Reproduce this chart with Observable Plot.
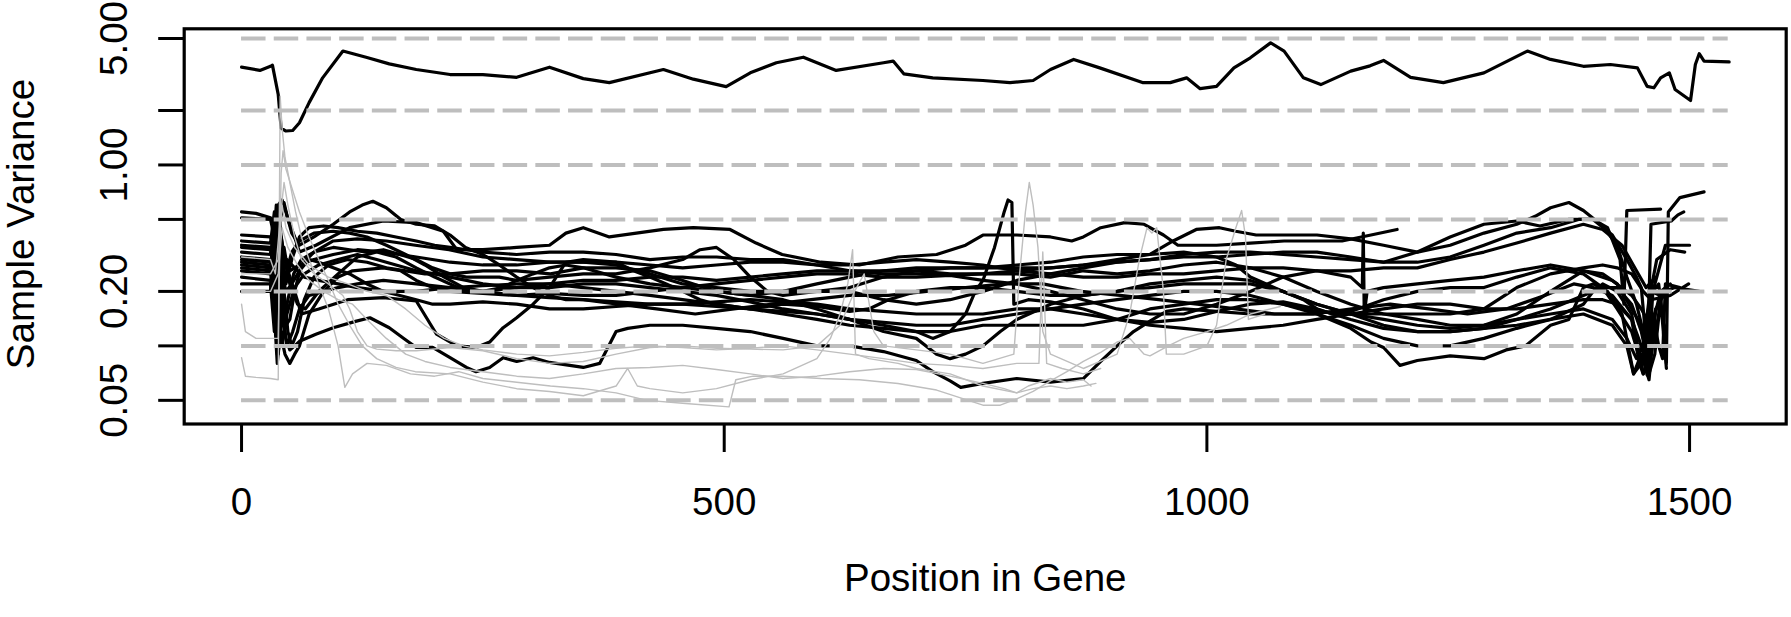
<!DOCTYPE html>
<html><head><meta charset="utf-8">
<script src="https://cdn.jsdelivr.net/npm/d3@7"></script>
<script src="https://cdn.jsdelivr.net/npm/@observablehq/plot@0.6"></script>
<style>body{margin:0;background:#fff;}</style>
</head><body><div id="chart"></div>
<script>
// ---------- axis / guide values ----------
const xTicks = [0, 500, 1000, 1500];
const yTicks = [0.05, 0.1, 0.2, 0.5, 1, 2, 5];
const yLabelled = [0.05, 0.2, 1, 5];
const guideLevels = [0.05, 0.1, 0.2, 0.5, 1, 2, 5];
const geneLength = 1540;

// ---------- black series: [position, sample variance] ----------
const topLine = [[0,3.47],[19,3.33],[30,3.51],[32,3.56],[38,2.45],[41,1.6],[46,1.54],[53,1.55],[60,1.71],[70,2.21],[84,3.03],[105,4.26],[129,3.94],[153,3.62],[181,3.37],[216,3.16],[250,3.16],[285,3.05],[319,3.47],[354,3.0],[381,2.85],[437,3.37],[468,2.98],[502,2.71],[527,3.23],[554,3.67],[582,3.94],[616,3.33],[665,3.67],[675,3.75],[686,3.19],[716,3.03],[768,2.93],[796,2.85],[820,2.93],[838,3.37],[862,3.83],[889,3.44],[934,2.85],[962,2.85],[979,3.03],[993,2.64],[1010,2.72],[1028,3.44],[1045,3.91],[1066,4.73],[1080,4.26],[1100,3.03],[1118,2.78],[1149,3.3],[1169,3.53],[1183,3.78],[1211,3.05],[1245,2.85],[1287,3.23],[1332,4.26],[1356,3.83],[1390,3.51],[1418,3.59],[1446,3.44],[1456,2.72],[1463,2.67],[1470,3.03],[1479,3.23],[1485,2.61],[1501,2.27],[1506,3.59],[1510,4.12],[1515,3.75],[1541,3.71]];
const b1 = [[0,0.55],[15,0.54],[30,0.51],[34,0.45],[37,0.25],[40,0.5],[44,0.62],[48,0.5],[55,0.4],[60,0.33],[77,0.36],[112,0.45],[147,0.49],[181,0.48],[209,0.43],[223,0.34],[250,0.34],[285,0.35],[319,0.36],[336,0.42],[354,0.45],[381,0.40],[437,0.44],[468,0.45],[506,0.44],[533,0.37],[560,0.32],[600,0.29],[640,0.28],[680,0.31],[720,0.32],[750,0.36],[768,0.41],[803,0.41],[838,0.40],[860,0.38],[872,0.40],[890,0.45],[915,0.48],[935,0.47],[955,0.41],[970,0.36],[990,0.36],[1010,0.36],[1045,0.37],[1080,0.38],[1110,0.38],[1140,0.38],[1170,0.41],[1197,0.44]];
const b2 = [[0,0.51],[30,0.50],[34,0.40],[38,0.6],[42,0.64],[46,0.55],[52,0.42],[60,0.36],[75,0.40],[95,0.47],[112,0.55],[125,0.60],[136,0.63],[150,0.58],[165,0.50],[181,0.47],[200,0.46],[216,0.41],[232,0.35],[250,0.32],[267,0.28],[285,0.24],[302,0.21],[319,0.19],[336,0.18],[354,0.18],[390,0.17],[430,0.16],[470,0.15],[510,0.16],[550,0.17],[590,0.18],[630,0.19],[670,0.19],[710,0.2],[750,0.21],[790,0.22],[830,0.22],[870,0.2],[910,0.19],[950,0.18],[990,0.17],[1030,0.16],[1070,0.15],[1110,0.15],[1150,0.16],[1190,0.17],[1230,0.16],[1270,0.15],[1310,0.16],[1350,0.19],[1380,0.22],[1400,0.21],[1420,0.19],[1440,0.14],[1448,0.08],[1452,0.07],[1458,0.09],[1462,0.2],[1468,0.22],[1474,0.12],[1476,0.08],[1478,0.55],[1490,0.66],[1515,0.71]];
const b3 = [[0,0.41],[30,0.40],[34,0.35],[37,0.10],[40,0.3],[44,0.2],[48,0.12],[52,0.10],[58,0.12],[65,0.18],[75,0.24],[90,0.28],[110,0.30],[130,0.29],[150,0.27],[170,0.26],[190,0.25],[216,0.25],[250,0.26],[285,0.26],[320,0.25],[354,0.27],[388,0.27],[423,0.26],[457,0.23],[492,0.20],[527,0.19],[561,0.20],[596,0.22],[630,0.24],[665,0.26],[699,0.26],[734,0.25],[768,0.25],[803,0.25],[838,0.24],[872,0.26],[907,0.25],[941,0.26],[976,0.28],[1010,0.29],[1045,0.27],[1079,0.24],[1114,0.2],[1149,0.17],[1183,0.15],[1218,0.15],[1252,0.15],[1287,0.16],[1321,0.21],[1356,0.25],[1390,0.27],[1410,0.28],[1425,0.27],[1440,0.25],[1452,0.2],[1460,0.18],[1480,0.19],[1499,0.22]];
const b4 = [[0,0.36],[30,0.35],[34,0.3],[38,0.45],[42,0.2],[46,0.13],[50,0.14],[55,0.2],[62,0.28],[75,0.33],[95,0.38],[120,0.39],[150,0.38],[180,0.36],[215,0.34],[250,0.31],[285,0.30],[320,0.29],[354,0.29],[388,0.28],[423,0.25],[457,0.22],[492,0.21],[527,0.20],[561,0.20],[596,0.20],[630,0.21],[665,0.24],[699,0.26],[734,0.27],[768,0.27],[803,0.27],[838,0.27],[872,0.28],[907,0.30],[941,0.32],[965,0.38],[989,0.44],[1013,0.45],[1030,0.43],[1051,0.41],[1114,0.41],[1149,0.39],[1183,0.36],[1218,0.33],[1252,0.36],[1287,0.42],[1321,0.47],[1340,0.52],[1356,0.58],[1375,0.62],[1390,0.56],[1410,0.46],[1425,0.36],[1435,0.24],[1445,0.17],[1452,0.12],[1456,0.069],[1460,0.47],[1481,0.49],[1488,0.53],[1494,0.55]];
const b5 = [[0,0.35],[30,0.34],[34,0.25],[38,0.12],[41,0.4],[45,0.3],[50,0.22],[58,0.17],[66,0.16],[80,0.2],[100,0.25],[120,0.31],[140,0.33],[160,0.31],[181,0.27],[200,0.24],[216,0.22],[233,0.20],[250,0.20],[270,0.21],[285,0.23],[302,0.25],[319,0.27],[336,0.28],[354,0.27],[388,0.24],[423,0.22],[457,0.21],[492,0.20],[527,0.19],[561,0.18],[596,0.16],[630,0.14],[665,0.12],[699,0.11],[720,0.09],[734,0.085],[750,0.09],[768,0.10],[786,0.12],[803,0.14],[838,0.17],[872,0.19],[907,0.2],[941,0.22],[976,0.23],[1010,0.24],[1045,0.23],[1079,0.20],[1114,0.17],[1149,0.15],[1183,0.13],[1218,0.12],[1252,0.12],[1287,0.125],[1321,0.14],[1356,0.15],[1390,0.16],[1420,0.14],[1435,0.11],[1445,0.085],[1452,0.1],[1458,0.18],[1466,0.3],[1480,0.34],[1495,0.33]];
const b6 = [[0,0.31],[30,0.30],[34,0.2],[37,0.09],[40,0.25],[44,0.35],[48,0.26],[55,0.2],[62,0.15],[80,0.16],[110,0.18],[147,0.185],[181,0.177],[202,0.116],[223,0.10],[243,0.098],[257,0.105],[271,0.126],[285,0.143],[302,0.17],[319,0.21],[336,0.29],[354,0.30],[388,0.29],[406,0.26],[423,0.24],[440,0.22],[457,0.2],[475,0.18],[492,0.17],[527,0.16],[561,0.15],[596,0.14],[630,0.13],[665,0.125],[699,0.12],[734,0.12],[768,0.13],[803,0.13],[838,0.13],[872,0.13],[907,0.14],[941,0.16],[976,0.17],[1010,0.18],[1045,0.18],[1079,0.17],[1114,0.15],[1149,0.13],[1183,0.11],[1218,0.10],[1252,0.10],[1287,0.11],[1321,0.125],[1356,0.14],[1390,0.17],[1400,0.2],[1410,0.22],[1425,0.2],[1440,0.15],[1448,0.09],[1452,0.07],[1458,0.08],[1465,0.12],[1472,0.2],[1485,0.21],[1510,0.20]];
const b7 = [[0,0.29],[30,0.28],[34,0.2],[38,0.09],[42,0.15],[46,0.11],[50,0.095],[55,0.10],[60,0.106],[77,0.116],[95,0.126],[119,0.137],[133,0.143],[153,0.126],[167,0.111],[181,0.098],[198,0.098],[216,0.086],[233,0.076],[243,0.072],[257,0.076],[271,0.086],[285,0.082],[302,0.086],[319,0.081],[354,0.076],[371,0.08],[388,0.12],[400,0.125],[423,0.13],[457,0.13],[492,0.125],[527,0.12],[561,0.11],[596,0.10],[630,0.10],[665,0.093],[699,0.083],[716,0.072],[734,0.064],[745,0.059],[768,0.062],[803,0.066],[838,0.063],[872,0.066],[890,0.082],[907,0.10],[924,0.12],[941,0.137],[958,0.155],[976,0.16],[1010,0.155],[1045,0.15],[1079,0.15],[1114,0.15],[1149,0.125],[1170,0.105],[1183,0.098],[1200,0.078],[1218,0.083],[1252,0.088],[1287,0.085],[1310,0.095],[1330,0.10],[1356,0.13],[1375,0.14],[1390,0.21],[1400,0.22],[1415,0.2],[1430,0.15],[1442,0.07],[1450,0.09],[1458,0.065],[1465,0.16],[1475,0.2]];
const b8 = [[0,0.27],[30,0.26],[34,0.15],[37,0.08],[40,0.12],[45,0.09],[50,0.08],[55,0.09],[60,0.1],[70,0.15],[85,0.20],[100,0.24],[115,0.26],[147,0.27],[165,0.26],[181,0.23],[198,0.21],[216,0.20],[250,0.195],[285,0.19],[319,0.195],[354,0.19],[388,0.19],[423,0.2],[457,0.21],[492,0.22],[527,0.23],[561,0.24],[596,0.25],[630,0.25],[665,0.24],[699,0.24],[734,0.245],[768,0.23],[803,0.22],[838,0.2],[872,0.18],[907,0.16],[941,0.15],[976,0.15],[1010,0.17],[1045,0.20],[1079,0.24],[1114,0.26],[1149,0.24],[1161,0.21],[1162,0.42],[1163,0.15],[1166,0.2],[1183,0.21],[1218,0.22],[1252,0.23],[1287,0.24],[1321,0.26],[1356,0.28],[1390,0.26],[1420,0.23],[1440,0.19],[1450,0.16],[1456,0.14],[1462,0.2],[1475,0.36],[1500,0.36]];
const b9 = [[0,0.26],[30,0.25],[34,0.3],[37,0.45],[40,0.2],[44,0.14],[48,0.18],[54,0.25],[62,0.3],[75,0.33],[95,0.35],[112,0.34],[130,0.33],[147,0.34],[164,0.32],[181,0.30],[198,0.27],[216,0.25],[233,0.24],[250,0.24],[267,0.24],[285,0.23],[319,0.24],[354,0.25],[388,0.25],[423,0.27],[457,0.30],[475,0.34],[492,0.35],[510,0.30],[527,0.24],[545,0.20],[561,0.19],[596,0.2],[630,0.2],[665,0.18],[699,0.17],[734,0.18],[768,0.2],[803,0.23],[838,0.25],[872,0.27],[907,0.29],[941,0.3],[976,0.32],[1010,0.33],[1045,0.33],[1079,0.32],[1114,0.31],[1149,0.30],[1183,0.29],[1218,0.29],[1252,0.31],[1287,0.36],[1321,0.42],[1356,0.45],[1385,0.5],[1400,0.5],[1415,0.45],[1428,0.3],[1432,0.17],[1435,0.56],[1470,0.57]];
const b10 = [[0,0.24],[30,0.23],[34,0.18],[38,0.35],[42,0.25],[46,0.2],[52,0.22],[60,0.26],[70,0.3],[80,0.29],[95,0.27],[112,0.25],[130,0.22],[147,0.2],[164,0.19],[181,0.18],[198,0.17],[216,0.17],[250,0.175],[285,0.17],[319,0.16],[354,0.16],[388,0.165],[423,0.17],[457,0.17],[492,0.165],[527,0.16],[561,0.17],[596,0.165],[630,0.155],[650,0.16],[670,0.18],[699,0.2],[734,0.21],[768,0.21],[803,0.2],[838,0.19],[872,0.19],[907,0.2],[941,0.21],[976,0.22],[1010,0.22],[1045,0.22],[1079,0.2],[1100,0.18],[1114,0.16],[1130,0.15],[1149,0.155],[1183,0.18],[1218,0.2],[1252,0.21],[1287,0.21],[1321,0.24],[1356,0.27],[1390,0.25],[1410,0.21],[1425,0.16],[1440,0.12],[1447,0.09],[1452,0.1],[1460,0.2],[1470,0.19]];
const b11 = [[0,0.20],[30,0.2],[34,0.4],[38,0.15],[42,0.3],[46,0.22],[52,0.3],[60,0.4],[70,0.45],[85,0.46],[100,0.45],[120,0.43],[140,0.42],[160,0.40],[181,0.38],[200,0.36],[216,0.35],[233,0.34],[250,0.33],[285,0.32],[319,0.33],[354,0.33],[388,0.32],[423,0.3],[457,0.31],[492,0.31],[527,0.30],[561,0.30],[596,0.28],[630,0.26],[665,0.25],[699,0.25],[734,0.245],[768,0.25],[803,0.26],[838,0.27],[872,0.28],[907,0.29],[941,0.3],[976,0.31],[1010,0.31],[1045,0.32],[1079,0.33],[1114,0.33],[1149,0.31],[1183,0.29],[1218,0.33],[1252,0.40],[1287,0.47],[1321,0.49],[1345,0.46],[1375,0.5],[1400,0.5],[1420,0.41],[1435,0.3],[1445,0.24],[1450,0.21],[1458,0.07],[1464,0.09],[1470,0.18],[1476,0.075]];
const b12 = [[0,0.30],[30,0.29],[35,0.15],[39,0.5],[44,0.3],[50,0.26],[60,0.28],[75,0.3],[95,0.32],[120,0.34],[147,0.33],[181,0.31],[216,0.29],[250,0.28],[285,0.28],[319,0.29],[354,0.29],[388,0.29],[423,0.28],[457,0.27],[492,0.28],[527,0.29],[561,0.29],[596,0.28],[630,0.28],[665,0.29],[699,0.30],[734,0.29],[768,0.28],[803,0.26],[838,0.25],[872,0.24],[907,0.24],[941,0.25],[976,0.25],[1010,0.26],[1045,0.27],[1079,0.27],[1114,0.26],[1149,0.26],[1183,0.27],[1218,0.27],[1252,0.3],[1287,0.33],[1321,0.37],[1356,0.42],[1390,0.47],[1410,0.44],[1430,0.36],[1445,0.26],[1455,0.21],[1465,0.24]];
const b13 = [[0,0.33],[30,0.32],[35,0.5],[38,0.2],[42,0.1],[47,0.15],[55,0.21],[65,0.25],[80,0.28],[100,0.3],[120,0.32],[140,0.30],[160,0.28],[181,0.26],[200,0.25],[216,0.24],[233,0.23],[250,0.22],[285,0.21],[319,0.21],[354,0.22],[388,0.22],[423,0.21],[457,0.2],[492,0.19],[527,0.175],[561,0.16],[596,0.15],[630,0.14],[665,0.135],[699,0.13],[734,0.13],[768,0.14],[803,0.15],[838,0.16],[872,0.17],[907,0.18],[941,0.19],[976,0.2],[1010,0.2],[1045,0.19],[1079,0.17],[1114,0.155],[1149,0.15],[1183,0.15],[1218,0.14],[1252,0.13],[1287,0.13],[1321,0.14],[1356,0.16],[1390,0.19],[1410,0.21],[1425,0.21],[1440,0.17],[1450,0.12],[1455,0.09],[1462,0.15],[1468,0.1],[1472,0.085],[1475,0.22],[1490,0.21]];
const b14 = [[0,0.22],[30,0.22],[34,0.12],[38,0.3],[42,0.16],[47,0.1],[53,0.12],[60,0.16],[70,0.19],[85,0.2],[100,0.21],[120,0.22],[147,0.23],[181,0.22],[216,0.21],[250,0.2],[285,0.19],[319,0.185],[354,0.18],[388,0.175],[423,0.17],[457,0.17],[492,0.175],[527,0.18],[561,0.175],[596,0.17],[630,0.16],[665,0.155],[699,0.15],[734,0.15],[768,0.15],[803,0.16],[838,0.16],[872,0.15],[907,0.14],[941,0.13],[976,0.125],[1010,0.12],[1045,0.125],[1079,0.13],[1114,0.14],[1149,0.15],[1183,0.16],[1218,0.17],[1252,0.17],[1287,0.16],[1321,0.16],[1356,0.17],[1390,0.18],[1410,0.18],[1425,0.17],[1440,0.14],[1450,0.1],[1457,0.075],[1462,0.12]];
const b15 = [[0,0.38],[30,0.37],[34,0.55],[38,0.3],[42,0.18],[46,0.25],[52,0.33],[60,0.38],[75,0.42],[95,0.43],[112,0.42],[130,0.40],[150,0.36],[170,0.32],[190,0.28],[210,0.24],[230,0.21],[250,0.20],[285,0.21],[319,0.22],[354,0.23],[388,0.23],[423,0.24],[457,0.24],[492,0.23],[527,0.24],[561,0.25],[596,0.26],[630,0.26],[665,0.26],[699,0.27],[734,0.27],[768,0.27],[803,0.28],[838,0.29],[872,0.31],[907,0.32],[941,0.32],[976,0.33],[1010,0.31],[1030,0.28],[1045,0.24],[1079,0.2],[1114,0.17],[1149,0.15],[1183,0.14],[1218,0.13],[1252,0.125],[1287,0.13],[1321,0.15],[1356,0.2],[1390,0.26],[1410,0.25],[1425,0.22],[1440,0.16],[1450,0.13],[1460,0.12],[1470,0.2],[1480,0.22]];
const spikeLine = [[0,0.28],[30,0.27],[33,0.35],[36,0.6],[39,0.4],[43,0.25],[47,0.3],[55,0.27],[65,0.24],[80,0.23],[100,0.22],[120,0.21],[150,0.2],[181,0.2],[216,0.21],[250,0.215],[285,0.22],[319,0.22],[354,0.21],[388,0.2],[423,0.19],[457,0.18],[492,0.17],[527,0.16],[561,0.155],[596,0.15],[630,0.14],[665,0.13],[699,0.12],[716,0.11],[734,0.12],[750,0.15],[760,0.2],[768,0.23],[780,0.35],[790,0.55],[794,0.64],[798,0.62],[800,0.17],[815,0.18],[838,0.175],[872,0.16],[907,0.14],[941,0.135],[976,0.14],[1010,0.155],[1045,0.17],[1079,0.175],[1114,0.16],[1149,0.14],[1183,0.125],[1218,0.12],[1252,0.12],[1287,0.125],[1321,0.13],[1356,0.14],[1390,0.15],[1420,0.13],[1435,0.1],[1442,0.07],[1450,0.08],[1456,0.1],[1465,0.16],[1470,0.17]];

// ---------- grey series ----------
const g1 = [[0,0.086],[4,0.068],[15,0.067],[30,0.066],[38,0.065],[40,2.4],[42,1.6],[45,1.1],[50,0.8],[56,0.55],[62,0.4],[70,0.3],[80,0.22],[90,0.16],[100,0.1],[107,0.059],[115,0.07],[130,0.08],[150,0.078],[175,0.07],[200,0.068],[225,0.072],[250,0.066],[285,0.063],[320,0.06],[354,0.058],[388,0.055],[420,0.05],[460,0.048],[505,0.046],[512,0.065],[530,0.068],[561,0.068],[600,0.066],[640,0.065],[680,0.062],[720,0.057],[768,0.047],[786,0.047],[803,0.051],[820,0.056],[838,0.064],[855,0.072],[872,0.082],[890,0.092],[907,0.105],[920,0.11],[935,0.09],[941,0.088],[960,0.1],[976,0.11],[1000,0.12],[1020,0.13],[1045,0.15],[1076,0.165]];
const g2 = [[0,0.17],[4,0.12],[15,0.11],[30,0.11],[38,0.11],[41,0.9],[43,1.2],[46,0.95],[52,0.75],[60,0.55],[70,0.4],[80,0.3],[90,0.23],[100,0.17],[112,0.13],[125,0.1],[140,0.085],[160,0.076],[180,0.072],[216,0.07],[250,0.063],[285,0.058],[319,0.056],[354,0.053],[388,0.06],[400,0.075],[410,0.06],[423,0.058],[457,0.055],[492,0.058],[527,0.065],[561,0.07],[596,0.085],[610,0.11],[620,0.15],[628,0.22],[633,0.34],[636,0.09],[650,0.085],[680,0.08],[699,0.075],[734,0.07],[768,0.06],[803,0.055],[815,0.06],[838,0.066],[855,0.063],[872,0.065],[880,0.06]];
const g3 = [[0,0.31],[30,0.30],[35,0.25],[40,0.5],[44,0.8],[48,0.6],[55,0.4],[62,0.3],[75,0.25],[90,0.22],[105,0.19],[112,0.16],[120,0.12],[130,0.10],[140,0.096],[160,0.094],[181,0.094],[216,0.098],[250,0.094],[285,0.085],[319,0.08],[354,0.082],[388,0.09],[423,0.098],[457,0.1],[492,0.097],[527,0.096],[561,0.095],[596,0.1],[620,0.13],[635,0.2],[645,0.25],[655,0.12],[665,0.1],[699,0.095],[734,0.09],[768,0.08],[800,0.09],[806,0.25],[812,0.55],[816,0.8],[820,0.6],[825,0.35],[830,0.12],[838,0.09],[872,0.075],[907,0.09],[920,0.15],[930,0.3],[938,0.45],[943,0.42],[948,0.45],[955,0.2],[958,0.09],[976,0.09],[1000,0.1],[1010,0.13],[1020,0.3],[1030,0.45],[1036,0.56],[1040,0.4],[1043,0.14],[1060,0.15]];
const g4 = [[0,0.25],[30,0.25],[38,0.3],[42,0.6],[46,0.45],[55,0.35],[70,0.28],[90,0.24],[110,0.22],[130,0.2],[150,0.19],[170,0.16],[190,0.13],[210,0.11],[230,0.1],[250,0.095],[285,0.09],[319,0.088],[354,0.092],[388,0.097],[423,0.1],[457,0.098],[492,0.095],[527,0.097],[561,0.1],[596,0.095],[630,0.09],[665,0.085],[699,0.08],[734,0.078],[768,0.075],[803,0.08],[826,0.08],[830,0.33],[834,0.08],[850,0.075],[872,0.07],[890,0.075]];
const g5 = [[0,0.2],[30,0.2],[38,0.25],[42,0.45],[48,0.35],[58,0.28],[70,0.23],[85,0.2],[100,0.18],[115,0.17],[130,0.14],[150,0.11],[170,0.09],[190,0.082],[216,0.076],[250,0.072],[285,0.068],[319,0.066],[354,0.07],[388,0.075],[423,0.076],[457,0.078],[492,0.074],[527,0.07],[561,0.066],[596,0.068],[630,0.072],[665,0.075],[699,0.074],[734,0.068],[768,0.062],[790,0.058],[803,0.055],[820,0.058],[838,0.06],[855,0.058],[872,0.06],[885,0.062]];

const blackLines = [topLine, b1, b2, b3, b4, b5, b6, b7, b8, b9, b10, b11, b12, b13, b14, b15, spikeLine];
const greyLines = [g1, g2, g3, g4, g5];
const toRows = (lines, tag) => lines.flatMap((s, i) => s.map(([x, v]) => ({id: tag + i, x, v})));
const blackRows = toRows(blackLines, "k");
const greyRows = toRows(greyLines, "g");

const font = "'Liberation Sans', Arial, Helvetica, sans-serif";
const chart = Plot.plot({
  width: 1791, height: 617,
  marginLeft: 183.7, marginRight: 5.3, marginTop: 28.3, marginBottom: 193.5,
  style: {fontFamily: font, fontSize: "38.5px", background: "#fff", color: "#000", overflow: "visible"},
  x: {domain: [-59.4, 1600.1]},
  y: {type: "log", domain: [0.037, 5.656]},
  marks: [
    Plot.line(blackRows, {x: "x", y: "v", z: "id", stroke: "#000", strokeWidth: 3.2, strokeLinejoin: "round"}),
    Plot.line(greyRows, {x: "x", y: "v", z: "id", stroke: "#bebebe", strokeWidth: 1.4}),
    Plot.ruleY(guideLevels, {x1: () => 0, x2: () => geneLength, stroke: "#bebebe", strokeWidth: 4, strokeDasharray: "24.5,8.2"}),
    Plot.frame({stroke: "#000", strokeWidth: 3.2}),
    Plot.axisX(xTicks, {tickSize: 28.5, tickPadding: 35.5, strokeWidth: 3, fontSize: 38.5, label: null,
      tickFormat: d => String(d)}),
    Plot.axisY(yTicks, {tickSize: 25.5, tickPadding: 32, strokeWidth: 3, fontSize: 38.5, tickRotate: -90,
      tickFormat: d => yLabelled.includes(d) ? d.toFixed(2) : "", label: null}),
    Plot.text(["Position in Gene"], {text: d => d, frameAnchor: "bottom", dy: 166.9, fontSize: 38.5}),
    Plot.text(["Sample Variance"], {text: d => d, frameAnchor: "left", textAnchor: "middle", dx: -162.7, dy: -2.4, rotate: -90, fontSize: 38.5})
  ]
});
document.getElementById("chart").appendChild(chart);
</script>
</body></html>
